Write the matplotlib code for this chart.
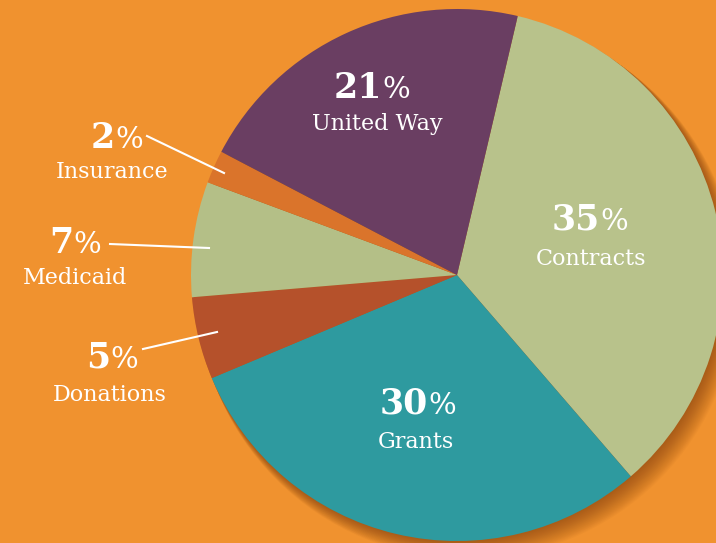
import matplotlib.pyplot as plt
from matplotlib.patches import Circle

# data
categories = ["Contracts", "Grants", "Donations", "Medicaid", "Insurance", "United Way"]
shares = [35, 30, 5, 7, 2, 21]
colors = ["#b8c28b", "#2e9a9f", "#b5512b", "#b4bf87", "#da742b", "#6a3e62"]

W, H = 716, 543
bg = "#f0922f"
cx, cy, r = 457, H - 275, 266

fig = plt.figure(figsize=(W / 100, H / 100), dpi=100)
fig.patch.set_facecolor(bg)
ax = fig.add_axes([0, 0, 1, 1])
ax.set_facecolor(bg)

# soft shadow toward the lower right
for i in range(1, 19):
    ax.add_patch(Circle((cx + i * 0.6, cy - i * 0.75), r + i * 0.25, color="#6b2f08",
                        alpha=0.035, lw=0, zorder=1))

wedges, _ = ax.pie(shares, colors=colors, startangle=76.8, counterclock=False,
                   center=(cx, cy), radius=r,
                   wedgeprops=dict(linewidth=0))
for w in wedges:
    w.set_zorder(2)

ax.set_xlim(0, W)
ax.set_ylim(0, H)
ax.set_aspect("equal")
ax.axis("off")

serif = "DejaVu Serif"

# (split x, pct baseline y, label center x, label baseline y) in image pixels
label_pos = {
    "United Way": (382, 98, 377, 130),
    "Contracts": (600, 230, 591, 265),
    "Grants": (428, 414, 416, 448),
    "Insurance": (115, 148, 112, 178),
    "Medicaid": (73, 253, 75, 284),
    "Donations": (110, 368, 110, 401),
}

for name, pct in zip(categories, shares):
    sx, py, lx, ly = label_pos[name]
    ax.text(sx, H - py, str(pct), color="white", fontsize=25, fontweight="bold",
            family=serif, ha="right", va="baseline", zorder=5)
    ax.text(sx, H - py, "%", color="white", fontsize=21,
            family=serif, ha="left", va="baseline", zorder=5)
    ax.text(lx, H - ly, name, color="white", fontsize=16,
            family=serif, ha="center", va="baseline", zorder=5)

# leader lines for the small slices
leaders = [
    ((147, 136), (224, 173)),
    ((110, 244), (209, 248)),
    ((143, 349), (217, 332)),
]
for (x0, y0), (x1, y1) in leaders:
    ax.plot([x0, x1], [H - y0, H - y1], color="white", lw=1.5, zorder=5)

fig.savefig("out.png", dpi=100, facecolor=bg)
